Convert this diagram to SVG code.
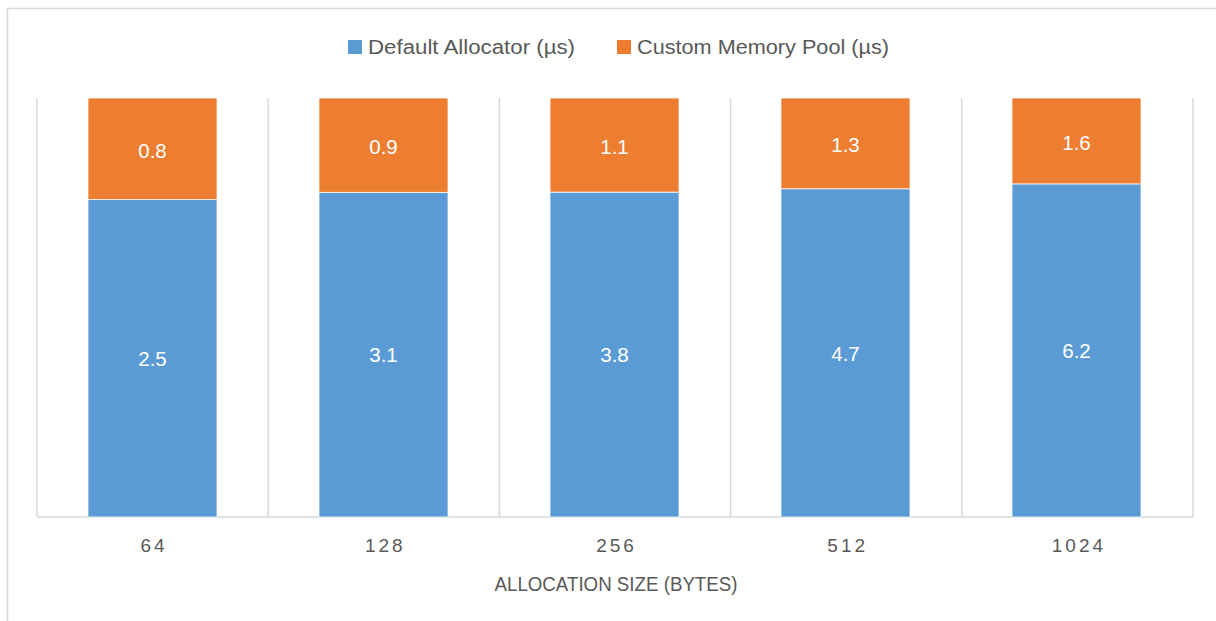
<svg xmlns="http://www.w3.org/2000/svg" width="1216" height="621" viewBox="0 0 1216 621">
<style>
.frame{fill:none;stroke:#D9D9D9;stroke-width:1.5}
.grid{stroke:#D9D9D9;stroke-width:1.5}
.blue{fill:#5B9BD5;stroke:#fff;stroke-width:0.75}
.orange{fill:#ED7D31;stroke:#fff;stroke-width:0.75}
.lbl{font-family:"Liberation Sans",Arial,sans-serif;font-size:20.5px;fill:#fff;text-anchor:middle}
.tick{font-family:"Liberation Sans",Arial,sans-serif;font-size:19px;fill:#595959;text-anchor:middle;letter-spacing:3px}
.leg{font-family:"Liberation Sans",Arial,sans-serif;font-size:20px;fill:#595959}
.title{font-family:"Liberation Sans",Arial,sans-serif;font-size:19.5px;fill:#595959;text-anchor:middle}
</style>
<rect width="1216" height="621" fill="#fff"/>
<path class="frame" d="M7.5,621 V8.5 H1216"/>
<g id="legend">
<rect x="348" y="40" width="14" height="14" fill="#5B9BD5"/>
<text class="leg" x="368" y="53.5" textLength="207" lengthAdjust="spacingAndGlyphs">Default Allocator (µs)</text>
<rect x="617" y="40" width="14" height="14" fill="#ED7D31"/>
<text class="leg" x="637" y="53.5" textLength="252" lengthAdjust="spacingAndGlyphs">Custom Memory Pool (µs)</text>
</g>
<g id="gridlines">
<line class="grid" x1="37" y1="98" x2="37" y2="517"/>
<line class="grid" x1="268.2" y1="98" x2="268.2" y2="517"/>
<line class="grid" x1="499.4" y1="98" x2="499.4" y2="517"/>
<line class="grid" x1="730.6" y1="98" x2="730.6" y2="517"/>
<line class="grid" x1="961.8" y1="98" x2="961.8" y2="517"/>
<line class="grid" x1="1193" y1="98" x2="1193" y2="517"/>
<line class="grid" x1="37" y1="517" x2="1193" y2="517"/>
</g>
<g id="bar-64">
<rect class="blue" x="88" y="199.6" width="129" height="317.4"/>
<rect class="orange" x="88" y="98" width="129" height="101.6"/>
<text class="lbl" x="152.5" y="366">2.5</text>
<text class="lbl" x="152.5" y="157.5">0.8</text>
</g>
<g id="bar-128">
<rect class="blue" x="319" y="192.3" width="129" height="324.7"/>
<rect class="orange" x="319" y="98" width="129" height="94.3"/>
<text class="lbl" x="383.5" y="362">3.1</text>
<text class="lbl" x="383.5" y="153.5">0.9</text>
</g>
<g id="bar-256">
<rect class="blue" x="550" y="192.1" width="129" height="324.9"/>
<rect class="orange" x="550" y="98" width="129" height="94.1"/>
<text class="lbl" x="614.5" y="362">3.8</text>
<text class="lbl" x="614.5" y="153.5">1.1</text>
</g>
<g id="bar-512">
<rect class="blue" x="781" y="188.8" width="129" height="328.2"/>
<rect class="orange" x="781" y="98" width="129" height="90.8"/>
<text class="lbl" x="845.5" y="360.5">4.7</text>
<text class="lbl" x="845.5" y="151.5">1.3</text>
</g>
<g id="bar-1024">
<rect class="blue" x="1012" y="183.9" width="129" height="333.1"/>
<rect class="orange" x="1012" y="98" width="129" height="85.9"/>
<text class="lbl" x="1076.5" y="358">6.2</text>
<text class="lbl" x="1076.5" y="149.5">1.6</text>
</g>
<g id="x-axis">
<text class="tick" x="154.1" y="552">64</text>
<text class="tick" x="385.3" y="552">128</text>
<text class="tick" x="616.5" y="552">256</text>
<text class="tick" x="847.7" y="552">512</text>
<text class="tick" x="1078.9" y="552">1024</text>
<text class="title" x="616" y="591" textLength="243" lengthAdjust="spacingAndGlyphs">ALLOCATION SIZE (BYTES)</text>
</g>
</svg>
